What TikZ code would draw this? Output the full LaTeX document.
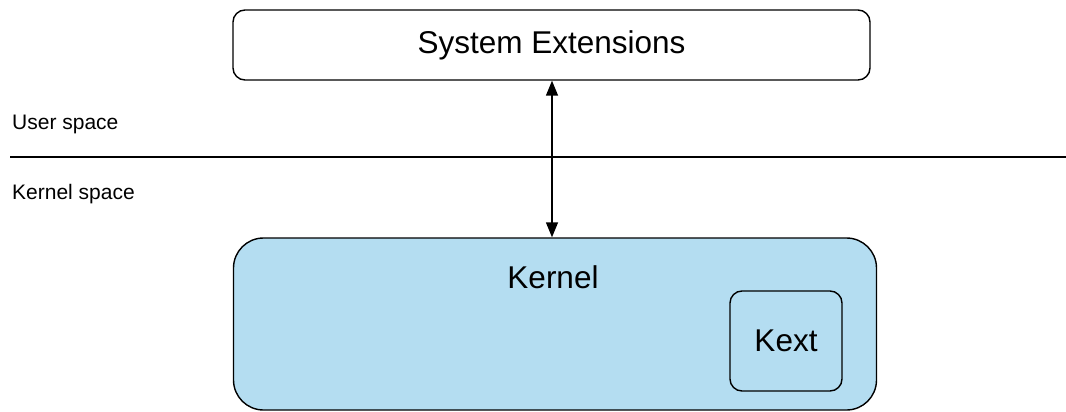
\documentclass[tikz,border=0pt]{standalone}
\usepackage{fontspec}
\setmainfont{Liberation Sans}
\usetikzlibrary{arrows.meta}
\definecolor{kfill}{HTML}{B4DDF1}
\begin{document}
\begin{tikzpicture}[x=1pt,y=-1pt,
  box/.style={draw=black,line width=1.4pt,rounded corners=12pt,inner sep=0pt},
  big/.style={font=\fontsize{31.5}{34}\selectfont},
  small/.style={font=\fontsize{21}{24}\selectfont,anchor=base west,inner sep=0pt}]
\useasboundingbox (0,0) rectangle (1066,412);
\node[box,minimum width=637pt,minimum height=70pt,big] (sys) at (551.5,45) {System Extensions};
\node[box,fill=kfill,rounded corners=30pt,minimum width=643pt,minimum height=172pt] (kern) at (555,324) {};
\node[big] (klabel) at (553,277) {Kernel};
\node[box,minimum width=112pt,minimum height=100pt,big] (kext) at (786,341) {Kext};
\coordinate (l1) at (10,157);
\coordinate (l2) at (1066,157);
\draw[line width=1.6pt] (l1) -- (l2);
\node[small] (us) at (12,129) {User space};
\node[small] (ks) at (12,199) {Kernel space};
\draw[line width=1.4pt,{Triangle[length=15pt,width=12pt]}-{Triangle[length=15pt,width=12pt]}] (sys.south -| 552,0) -- (kern.north -| 552,0);
\end{tikzpicture}
\end{document}
